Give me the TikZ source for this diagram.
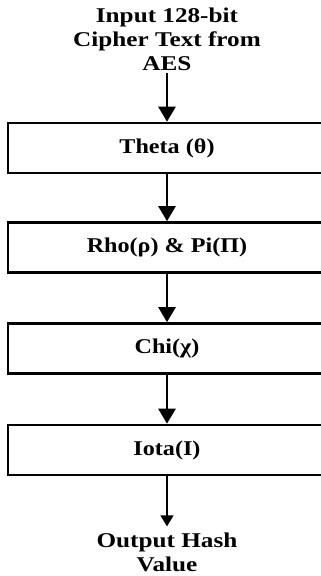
\documentclass[tikz,border=0pt]{standalone}
\usepackage{fontspec}
\setmainfont{Liberation Serif}
\usetikzlibrary{arrows.meta}
\begin{document}
\begin{tikzpicture}[x=1pt,y=-1pt,
  stagebox/.style={draw=black,line width=2.6pt,minimum width=316pt,minimum height=50pt,inner sep=0pt,fill=white},
  lbl/.style={font=\fontsize{21}{24}\selectfont\bfseries,align=center,inner sep=0pt},
  thick arrow/.style={line width=2.6pt,-{Triangle[width=17pt,length=15pt]}},
  thin arrow/.style={line width=1.3pt,-{Triangle[width=13pt,length=11pt]}}]
\useasboundingbox (0,0) rectangle (321,576);
\clip (0,0) rectangle (321,576);
\node[lbl] (in) at (167,39) {\scalebox{1.2}[1]{Input 128-bit}\\\scalebox{1.2}[1]{Cipher Text from}\\\scalebox{1.2}[1]{AES}};
\node[stagebox] (b1) at (166,148) {};
\node[lbl] (t1) at (167,148) {\scalebox{1.15}[1]{Theta (θ)}};
\node[stagebox] (b2) at (166,247.5) {};
\node[lbl] (t2) at (167,247.5) {\scalebox{1.15}[1]{Rho(ρ) \& Pi(Π)}};
\node[stagebox] (b3) at (166,348.5) {};
\node[lbl] (t3) at (167,348.5) {\scalebox{1.15}[1]{Chi(χ)}};
\node[stagebox] (b4) at (166,450) {};
\node[lbl] (t4) at (167,450) {\scalebox{1.15}[1]{Iota(I)}};
\node[lbl] (out) at (167,552) {\scalebox{1.2}[1]{Output Hash}\\\scalebox{1.2}[1]{Value}};
\coordinate (e4) at ([yshift=6pt]out.north);
\draw[thick arrow] (in.south -| b1.north) ++(1,2) coordinate (s0) -- (s0 |- b1.north);
\draw[thick arrow] ([xshift=1pt]b1.south) -- ([xshift=1pt]b2.north);
\draw[thick arrow] ([xshift=1pt]b2.south) -- ([xshift=1pt]b3.north);
\draw[thick arrow] ([xshift=1pt]b3.south) -- ([xshift=1pt]b4.north);
\draw[thin arrow] ([xshift=1pt]b4.south) coordinate (s4) -- (s4 |- e4);
\end{tikzpicture}
\end{document}
